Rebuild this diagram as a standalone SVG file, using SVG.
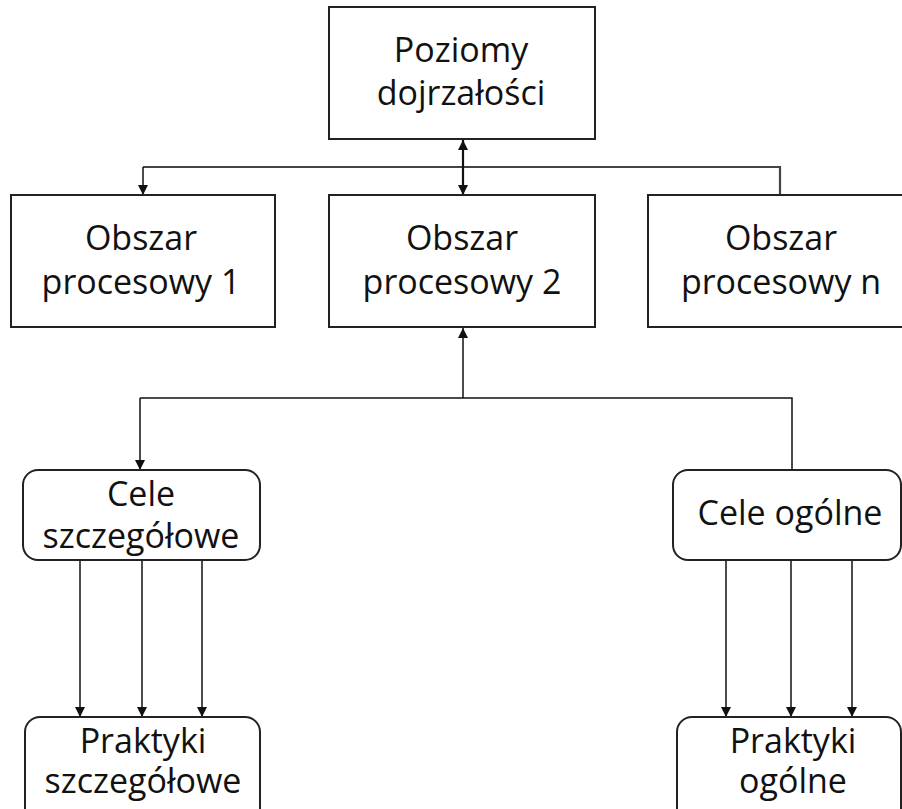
<svg xmlns="http://www.w3.org/2000/svg" width="902" height="809" viewBox="0 0 902 809">
<style>
.box{fill:#fff;stroke:#222;stroke-width:2}
.t{font-family:"Open Sans","Noto Sans",sans-serif;font-size:34px;fill:#111;text-anchor:middle}
.c{fill:none;stroke:#111;stroke-width:1.5}
</style>
<defs>
<marker id="ah" viewBox="0 0 10 10" refX="10" refY="5" markerWidth="10" markerHeight="10" markerUnits="userSpaceOnUse" orient="auto-start-reverse">
<path d="M0,0 L10,5 L0,10 z" fill="#111"/>
</marker>
</defs>
<rect width="902" height="809" fill="#fff"/>
<g id="connectors">
<path d="M143,167 H780 V195" fill="none" stroke="#444" stroke-width="2.2"/>
<path class="c" d="M143,167 V195" marker-end="url(#ah)"/>
<path d="M463,140 V195" fill="none" stroke="#111" stroke-width="2.2" marker-start="url(#ah)" marker-end="url(#ah)"/>
<path class="c" d="M463,398 V328" marker-end="url(#ah)"/>
<path class="c" d="M140,398 H792 V470"/>
<path class="c" d="M140,398 V470" marker-end="url(#ah)"/>
<path class="c" d="M80,560 V717" marker-end="url(#ah)"/>
<path class="c" d="M142,560 V717" stroke-width="2" marker-end="url(#ah)"/>
<path class="c" d="M202,560 V717" marker-end="url(#ah)"/>
<path class="c" d="M726,560 V717" marker-end="url(#ah)"/>
<path class="c" d="M791,560 V717" stroke-width="2" marker-end="url(#ah)"/>
<path class="c" d="M852,560 V717" marker-end="url(#ah)"/>
</g>
<g id="poziomy">
<rect class="box" x="329" y="7" width="266" height="132"/>
<text class="t" x="461" y="62">Poziomy</text>
<text class="t" x="461" y="105">dojrzałości</text>
</g>
<g id="obszar1">
<rect class="box" x="11" y="195" width="264" height="132"/>
<text class="t" x="141" y="250">Obszar</text>
<text class="t" x="141" y="294">procesowy 1</text>
</g>
<g id="obszar2">
<rect class="box" x="329" y="195" width="266" height="132"/>
<text class="t" x="462" y="250">Obszar</text>
<text class="t" x="462" y="294">procesowy 2</text>
</g>
<g id="obszarn">
<rect class="box" x="648" y="195" width="266" height="132"/>
<text class="t" x="781" y="250">Obszar</text>
<text class="t" x="781" y="294">procesowy n</text>
</g>
<g id="cele-szczegolowe">
<rect class="box" x="23" y="470" width="237" height="90" rx="15"/>
<text class="t" x="141" y="506">Cele</text>
<text class="t" x="141" y="548">szczegółowe</text>
</g>
<g id="cele-ogolne">
<rect class="box" x="673" y="470" width="228" height="90" rx="15"/>
<text class="t" x="790" y="525">Cele ogólne</text>
</g>
<g id="praktyki-szczegolowe">
<rect class="box" x="25" y="717" width="235" height="110" rx="15"/>
<text class="t" x="143" y="753">Praktyki</text>
<text class="t" x="143" y="793">szczegółowe</text>
</g>
<g id="praktyki-ogolne">
<rect class="box" x="677" y="717" width="224" height="110" rx="15"/>
<text class="t" x="793" y="753">Praktyki</text>
<text class="t" x="793" y="793">ogólne</text>
</g>
</svg>
